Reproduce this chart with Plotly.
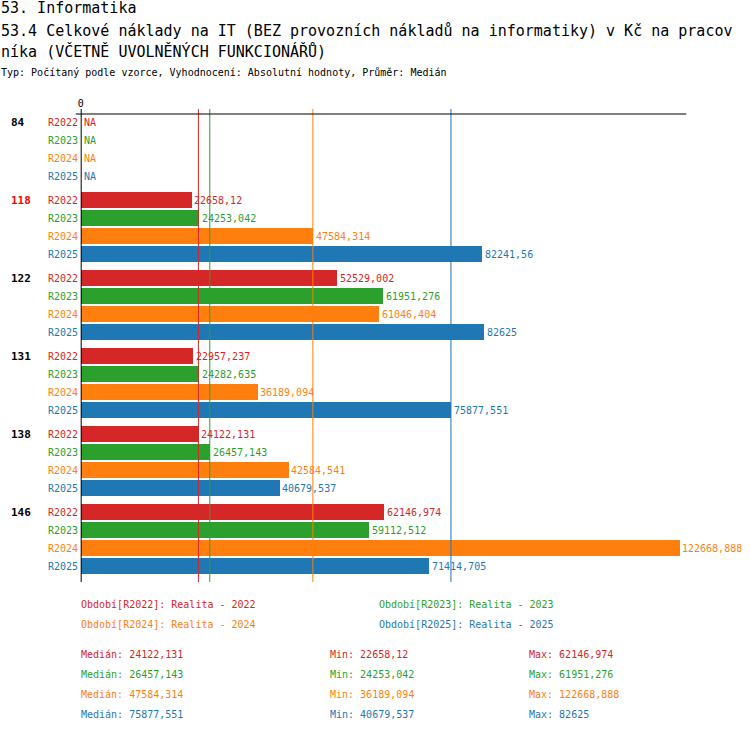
import numpy as np
import plotly.graph_objects as go

W, H = 750, 732

title1 = "53. Informatika"
title2 = "53.4 Celkové náklady na IT (BEZ provozních nákladů na informatiky) v Kč na pracov"
title3 = "níka (VČETNĚ UVOLNĚNÝCH FUNKCIONÁŘŮ)"
subtitle = "Typ: Počítaný podle vzorce, Vyhodnocení: Absolutní hodnoty, Průměr: Medián"

groups = ["84", "118", "122", "131", "138", "146"]
highlight_group = "118"
series = ["R2022", "R2023", "R2024", "R2025"]
series_desc = ["Realita - 2022", "Realita - 2023", "Realita - 2024", "Realita - 2025"]
colors = ["#d62728", "#2ca02c", "#ff7f0e", "#1f77b4"]

r2022 = [None, 22658.12, 52529.002, 22957.237, 24122.131, 62146.974]
r2023 = [None, 24253.042, 61951.276, 24282.635, 26457.143, 59112.512]
r2024 = [None, 47584.314, 61046.404, 36189.094, 42584.541, 122668.888]
r2025 = [None, 82241.56, 82625, 75877.551, 40679.537, 71414.705]
values = [r2022, r2023, r2024, r2025]


def fmt(v):
    if v is None:
        return "NA"
    v = float(v)
    if v == int(v):
        return str(int(v))
    return repr(v).replace(".", ",")


SHIFT = -2  # global horizontal correction (px)
PADL = -2   # compensate annotation border padding for left-anchored text


def py(p):
    return 1 - p / H


def px(p):
    return (p + SHIFT) / W


FONT = "DejaVu Sans Mono"

# layout geometry (pixels)
plot_top, plot_bottom = 114, 582
row_step, bar_h, group_step = 18, 16, 78

fig = go.Figure()

annotations = []
shapes = []

all_vals = [v for s in values for v in s if v is not None]
xmax = max(all_vals) * 1.01

for si, (name, vals, col) in enumerate(zip(series, values, colors)):
    ys = [bar_h / 2 + gi * group_step + si * row_step for gi in range(len(groups))]
    fig.add_trace(go.Bar(
        x=vals, y=ys, orientation="h", width=bar_h,
        marker=dict(color=col, line=dict(width=0)),
        name=name, showlegend=False, hoverinfo="skip",
    ))
    for gi, (v, y) in enumerate(zip(vals, ys)):
        annotations.append(dict(
            x=v if v is not None else 0, y=y, xref="x", yref="y",
            text=fmt(v), showarrow=False, xanchor="left", yanchor="middle",
            xshift=1, font=dict(family=FONT, size=10, color=col),
        ))
        annotations.append(dict(
            x=px(79), y=y, xref="paper", yref="y", text=name, showarrow=False,
            xanchor="right", yanchor="middle",
            font=dict(family=FONT, size=10, color=col),
        ))

for gi, g in enumerate(groups):
    annotations.append(dict(
        x=px(10), y=bar_h / 2 + gi * group_step, xref="paper", yref="y",
        text="<b>%s</b>" % g, showarrow=False, xanchor="left", yanchor="middle",
        xshift=PADL,
        font=dict(family=FONT, size=11, color="red" if g == highlight_group else "black"),
    ))

# median lines
for vals, col in zip(values, colors):
    v = [x for x in vals if x is not None]
    med = float(np.median(v))
    shapes.append(dict(type="line", xref="x", yref="paper", x0=med, x1=med,
                       y0=py(109), y1=py(plot_bottom), line=dict(color=col, width=1)))

# axes lines
shapes.append(dict(type="line", xref="paper", yref="paper", x0=px(75), x1=px(688),
                   y0=py(plot_top), y1=py(plot_top), line=dict(color="black", width=1.2)))
shapes.append(dict(type="line", xref="x", yref="paper", x0=0, x1=0,
                   y0=py(109), y1=py(plot_bottom), line=dict(color="black", width=2)))

# titles
for text, y, size in [(title1, 8, 15), (title2, 31, 15), (title3, 51, 15), (subtitle, 73, 10)]:
    annotations.append(dict(x=px(0), y=py(y), xref="paper", yref="paper", text=text,
                            showarrow=False, xanchor="left", yanchor="middle", xshift=PADL,
                            font=dict(family=FONT, size=size, color="black")))

# legend
leg_pos = [(80, 604), (380, 604), (80, 624), (380, 624)]
for (lx, ly), name, desc, col in zip(leg_pos, series, series_desc, colors):
    annotations.append(dict(x=px(lx), y=py(ly), xref="paper", yref="paper",
                            text="Období[%s]: %s" % (name, desc), showarrow=False,
                            xanchor="left", yanchor="middle", xshift=PADL,
                            font=dict(family=FONT, size=10, color=col)))

# stats
for si, (vals, col) in enumerate(zip(values, colors)):
    v = [x for x in vals if x is not None]
    y = 654 + si * 20
    for lx, label, val in [(80, "Medián", float(np.median(v))), (330, "Min", min(v)), (530, "Max", max(v))]:
        annotations.append(dict(x=px(lx), y=py(y), xref="paper", yref="paper",
                                text="%s: %s" % (label, fmt(val)), showarrow=False,
                                xanchor="left", yanchor="middle", xshift=PADL,
                                font=dict(family=FONT, size=10, color=col)))

fig.update_layout(
    width=W, height=H, margin=dict(l=0, r=0, t=0, b=0, pad=0),
    paper_bgcolor="white", plot_bgcolor="white",
    barmode="overlay", bargap=0,
    xaxis=dict(domain=[px(80), px(687)], range=[0, xmax], side="top",
               showgrid=False, zeroline=False, showline=False,
               tickvals=[0], ticktext=["0"], ticks="", ticklen=0,
               ticklabelstandoff=4,
               tickfont=dict(family=FONT, size=10, color="black"), fixedrange=True),
    yaxis=dict(domain=[py(plot_bottom), py(plot_top)], range=[plot_bottom - plot_top, 0],
               showgrid=False, zeroline=False, showline=False, showticklabels=False,
               fixedrange=True),
    annotations=annotations, shapes=shapes,
    font=dict(family=FONT),
)

fig.write_html("out.html", config={"displayModeBar": False},
               post_script="document.body.style.margin='0px';document.body.style.padding='0px';")
